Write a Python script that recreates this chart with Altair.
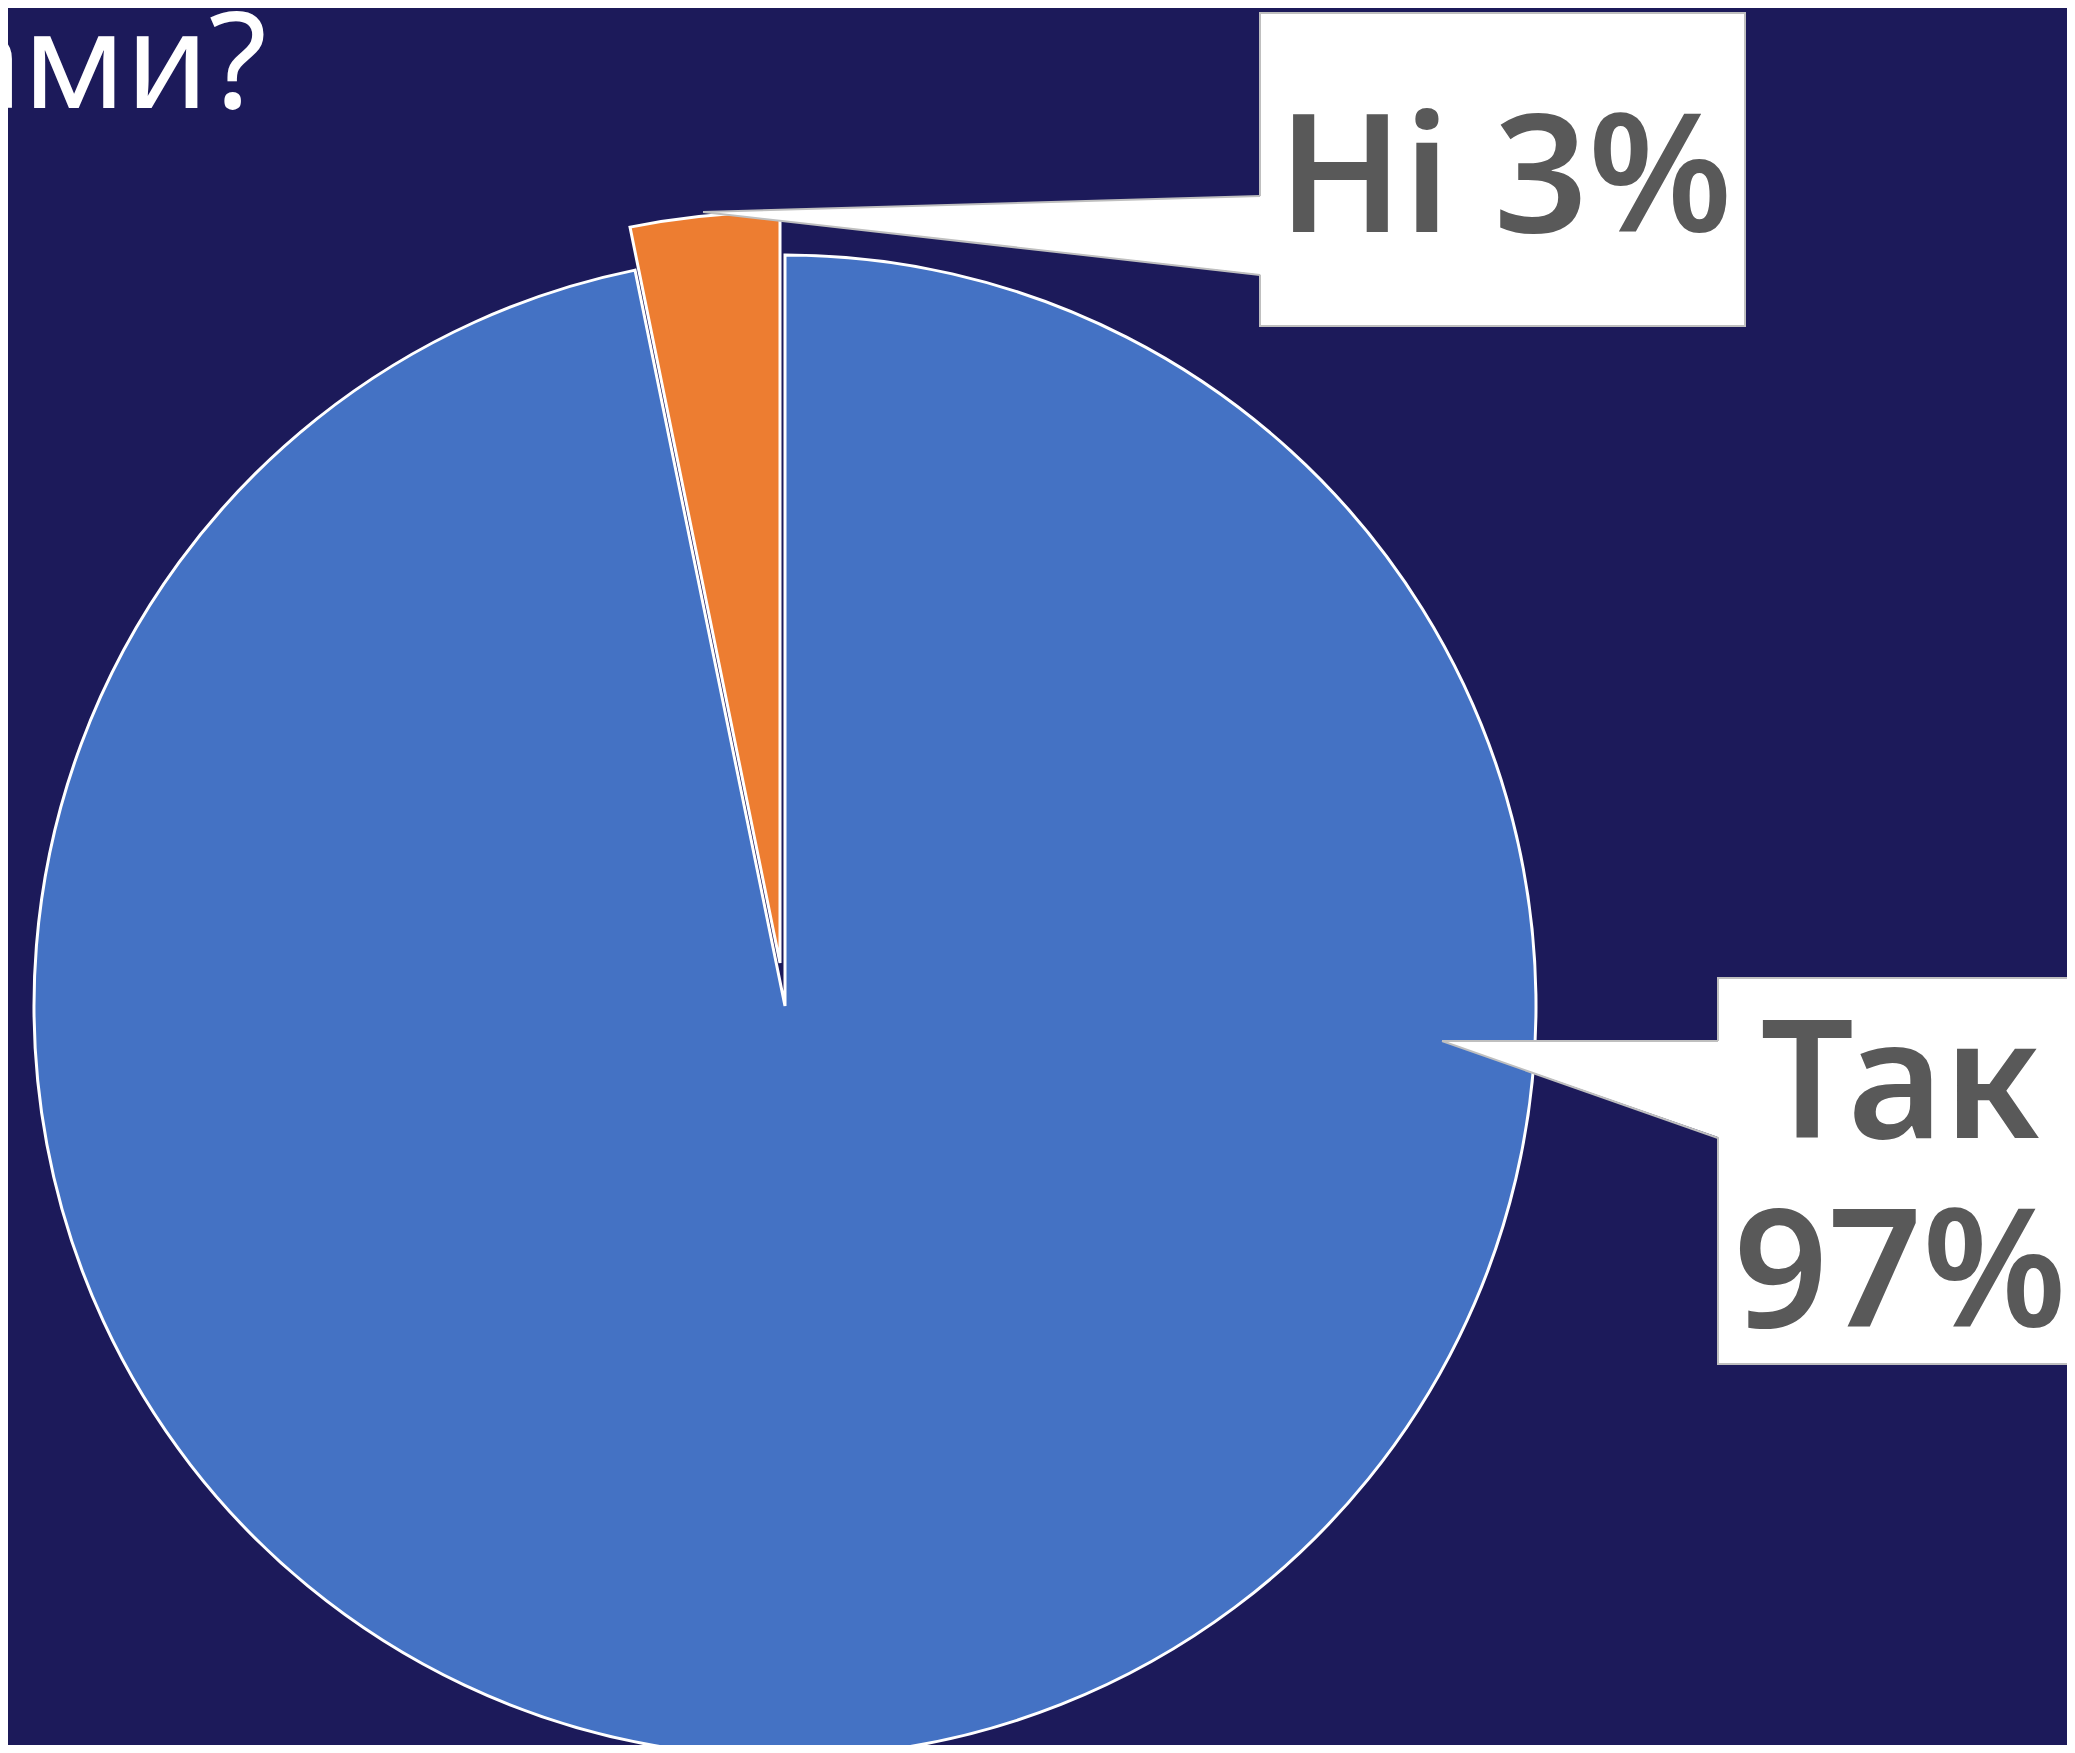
import altair as alt
import pandas as pd

# ---- data ----
categories = ["Так", "Ні"]
values = [96.8, 3.2]
pct_labels = ["97%", "3%"]
colors = ["#4472C4", "#ED7D31"]
title_text = "ами?"

# ---- layout ----
W, H = 2059, 1737
BG = "#1C1A5A"
CX, CY, R = 777, 998, 751
EXPLODE = (-5, -43)
TEXT_GRAY = "#595959"
EDGE = "#BFBFBF"

ends = list(pd.Series(values).cumsum())
starts = [e - v for e, v in zip(ends, values)]
pie = pd.DataFrame({"cat": categories, "value": values, "start": starts,
                    "end": ends, "color": colors})

theta_scale = alt.Scale(domain=[0, sum(values)], range=[0, 6.283185307179586])
xs = alt.Scale(domain=[0, W], range=[0, W], nice=False, zero=False)
ys = alt.Scale(domain=[0, H], range=[0, H], nice=False, zero=False)

base_pie = alt.Chart(pie)
blue = base_pie.transform_filter(alt.datum.cat == categories[0]).mark_arc(
    outerRadius=R, stroke="white", strokeWidth=3, x=CX, y=CY
).encode(
    theta=alt.Theta("start:Q", scale=theta_scale),
    theta2="end:Q",
    color=alt.Color("color:N", scale=None),
)
orange = base_pie.transform_filter(alt.datum.cat == categories[1]).mark_arc(
    outerRadius=R, stroke="white", strokeWidth=3,
    x=CX + EXPLODE[0], y=CY + EXPLODE[1]
).encode(
    theta=alt.Theta("start:Q", scale=theta_scale),
    theta2="end:Q",
    color=alt.Color("color:N", scale=None),
)

# callout boxes
boxes = pd.DataFrame({"x": [1252, 1710], "x2": [1737, 2090],
                      "y": [5, 970], "y2": [318, 1356]})
box_layer = alt.Chart(boxes).mark_rect(fill="white", stroke=EDGE, strokeWidth=2).encode(
    x=alt.X("x:Q", scale=xs, axis=None), x2="x2:Q",
    y=alt.Y("y:Q", scale=ys, axis=None), y2="y2:Q",
)

pointers = pd.DataFrame({
    "g": ["a", "a", "b", "b"],
    "x": [695, 1255, 1434, 1713],
    "y": [204, 188, 1033, 1033],
    "y2": [204, 267, 1033, 1130],
})
ptr_layer = alt.Chart(pointers).mark_area(fill="white", stroke=None).encode(
    x=alt.X("x:Q", scale=xs, axis=None),
    y=alt.Y("y:Q", scale=ys, axis=None, stack=None), y2="y2:Q",
    detail="g:N",
)

edges = pd.DataFrame({
    "x": [695, 695, 1434, 1434],
    "y": [204, 204, 1033, 1033],
    "x2": [1252, 1252, 1710, 1710],
    "y2": [188, 267, 1033, 1130],
})
edge_layer = alt.Chart(edges).mark_rule(color=EDGE, strokeWidth=2).encode(
    x=alt.X("x:Q", scale=xs, axis=None), x2="x2:Q",
    y=alt.Y("y:Q", scale=ys, axis=None), y2="y2:Q",
)

labels = pd.DataFrame({
    "t": [f"{categories[1]} {pct_labels[1]}", categories[0], pct_labels[0]],
    "x": [1497, 1892, 1892],
    "y": [224, 1130, 1319],
})
label_layer = alt.Chart(labels).mark_text(
    font="Noto Sans", fontSize=165, fontWeight=600, color=TEXT_GRAY,
    align="center", baseline="alphabetic"
).encode(
    x=alt.X("x:Q", scale=xs, axis=None),
    y=alt.Y("y:Q", scale=ys, axis=None),
    text="t:N",
)

title_layer = alt.Chart(pd.DataFrame({"t": [title_text]})).mark_text(
    font="Noto Sans", fontSize=134, fontWeight=400, color="white",
    align="right", baseline="alphabetic"
).encode(x=alt.value(259), y=alt.value(100), text="t:N")

chart = alt.layer(
    blue, orange, box_layer, ptr_layer, edge_layer, label_layer, title_layer
).properties(
    width=W, height=H, padding=0, autosize="none", background=BG
).configure_view(stroke=None)

chart.save("out.html", embed_options={"renderer": "svg", "actions": False})
